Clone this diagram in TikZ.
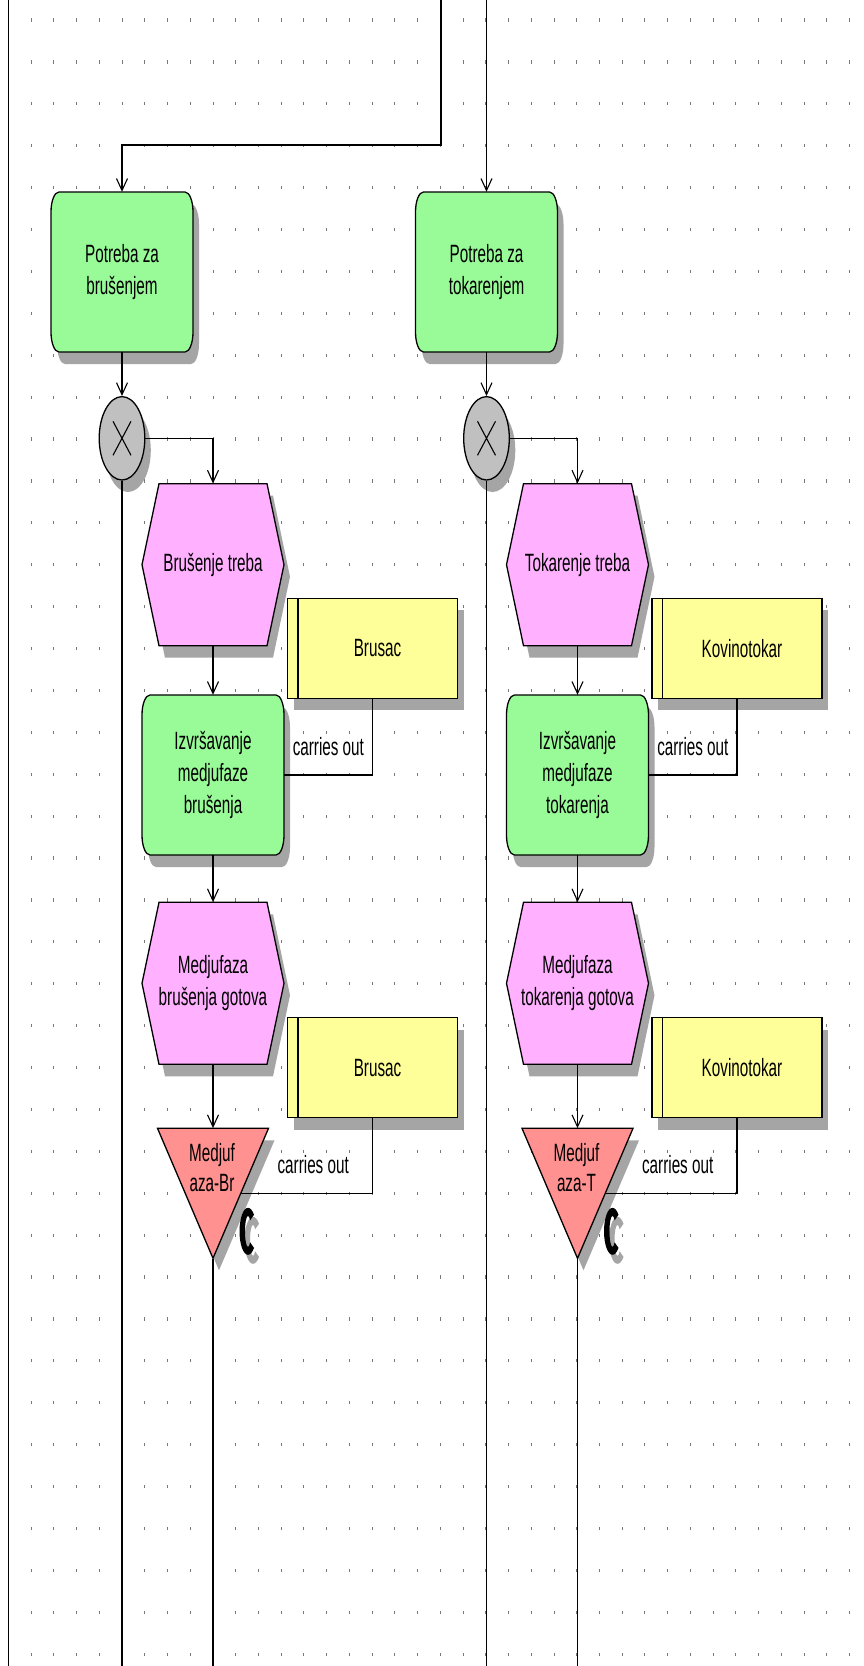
\documentclass[tikz,border=0pt]{standalone}
\usepackage{fontspec}
\newfontfamily\arisfont[FakeStretch=0.61]{Liberation Sans}
\usetikzlibrary{arrows.meta,shapes.geometric}
\definecolor{fgreen}{RGB}{152,251,152}
\definecolor{epink}{RGB}{255,176,255}
\definecolor{oyellow}{RGB}{255,255,153}
\definecolor{tred}{RGB}{255,145,145}
\definecolor{xgray}{RGB}{192,192,192}
\definecolor{shgray}{RGB}{165,165,165}
\definecolor{dotc}{RGB}{120,120,120}
\tikzset{
  outl/.style={draw=black, line width=1.3pt, line join=miter},
  shad/.style={fill=shgray, draw=none},
  conn/.style={draw=black, line width=1.3pt},
  arr/.style={conn, -{Straight Barb[length=12pt,width=11pt,line width=1.1pt]}},
  txt/.style={font={\arisfont\fontsize{25}{32}\selectfont}, align=center, inner sep=0pt},
  lbl/.style={txt, anchor=base, yshift=19.5pt, fill=white, inner sep=1pt}
}
% function box (rounded)
\newcommand\fboxpath[1]{\path[#1] (-71,-60) .. controls (-71,-71) and (-67.5,-80) .. (-63,-80) -- (63,-80) .. controls (67.5,-80) and (71,-71) .. (71,-60) -- (71,60) .. controls (71,71) and (67.5,80) .. (63,80) -- (-63,80) .. controls (-67.5,80) and (-71,71) .. (-71,60) -- cycle;}
\newcommand\funcnode[4]{%
  \begin{scope}[shift={(#2,#3)}]
    \fboxpath{shad, shift={(6,12)}}
    \fboxpath{outl, fill=fgreen}
    \node[txt, minimum width=142pt, minimum height=160pt] (#1) at (0,0) {#4};
  \end{scope}}
% event hexagon
\newcommand\hexpath[1]{\path[#1] (-54,-81) -- (54,-81) -- (71,0) -- (54,81) -- (-54,81) -- (-71,0) -- cycle;}
\newcommand\eventnode[4]{%
  \begin{scope}[shift={(#2,#3)}]
    \hexpath{shad, shift={(6,12)}}
    \hexpath{outl, fill=epink}
    \node[txt, minimum width=142pt, minimum height=162pt] (#1) at (0,0) {#4};
  \end{scope}}
% organisational unit
\newcommand\orgnode[4]{%
  \begin{scope}[shift={(#2,#3)}]
    \path[shad] (-79,-38) rectangle (91,62);
    \path[outl, fill=oyellow] (-85,-50) rectangle (85,50);
    \draw[outl] (-74.6,-50) -- (-74.6,50);
    \node[inner sep=0pt, minimum width=170pt, minimum height=100pt] (#1) at (0,0) {};
    \node[txt] (#1t) at (5,0) {#4};
  \end{scope}}
% xor
\newcommand\xornode[3]{%
  \begin{scope}[shift={(#2,#3)}]
    \path[shad] (6,12) ellipse [x radius=22.8, y radius=41.7];
    \node[ellipse, outl, fill=xgray, inner sep=0pt, minimum width=45.6pt, minimum height=83.4pt] (#1) at (0,0) {};
    \draw[line width=1.1pt] (-9,-17) -- (9,17) (9,-17) -- (-9,17);
  \end{scope}}
% C icon (relative to triangle centre)
\newcommand\cpath[1]{\path[#1] (41.01,21.38) arc [start angle=-45, end angle=-315, x radius=8.5, y radius=23.5] -- (37.12,48.96) arc [start angle=45, end angle=315, x radius=3, y radius=15.5] -- cycle;}
% triangle (product)
\newcommand\trinode[4]{%
  \begin{scope}[shift={(#2,#3)}]
    \path[shad] (-49.5,-53) -- (61.5,-53) -- (6,77) -- cycle;
    \path[outl, fill=tred] (-55.5,-65) -- (55.5,-65) -- (0,65) -- cycle;
    \node[inner sep=0pt, minimum width=111pt, minimum height=130pt] (#1) at (0,0) {};
    \node[txt, font={\arisfont\fontsize{25}{30}\selectfont}] (#1t) at (-1,-26) {#4};
    \coordinate (#1e) at (27.75,0);
    \cpath{fill=shgray, shift={(5,9)}}
    \cpath{fill=black}
  \end{scope}}

\begin{document}
\begin{tikzpicture}[x=1pt, y=-1pt]
\useasboundingbox (0,0) rectangle (864,1666);
\fill[white] (0,0) rectangle (864,1666);
% grid of dots
\foreach \i in {1,...,37} {
  \foreach \j in {0,...,39} {
    \fill[dotc] ({8.5+22.73*\i-0.5},{20+41.9*\j-1.6}) rectangle ++(1,3.2);
  }
}
% left frame line
\draw[conn] (8.5,0) -- (8.5,1666);

% column A
\funcnode{f1}{122}{272}{Potreba za\\brušenjem}
\xornode{x1}{122}{438.3}
\eventnode{h1}{213}{564.7}{Brušenje treba}
\orgnode{y1}{372.5}{648.3}{Brusac}
\funcnode{f2}{213}{775}{Izvršavanje\\medjufaze\\brušenja}
\eventnode{h2}{213}{983.3}{Medjufaza\\brušenja gotova}
\orgnode{y2}{372.5}{1067.8}{Brusac}
\trinode{t1}{213}{1193.3}{Medjuf\\aza-Br}

% column B
\funcnode{f3}{486.5}{272}{Potreba za\\tokarenjem}
\xornode{x2}{486.5}{438.3}
\eventnode{h3}{577.5}{564.7}{Tokarenje treba}
\orgnode{y3}{737}{648.3}{Kovinotokar}
\funcnode{f4}{577.5}{775}{Izvršavanje\\medjufaze\\tokarenja}
\eventnode{h4}{577.5}{983.3}{Medjufaza\\tokarenja gotova}
\orgnode{y4}{737}{1067.8}{Kovinotokar}
\trinode{t2}{577.5}{1193.3}{Medjuf\\aza-T}

% incoming lines
\coordinate (inA) at (441,0);
\coordinate (bendA) at (441,145);
\coordinate (inB) at (486.5,0);
\draw[arr] (inA) -- (bendA) -| (f1.north);
\draw[arr] (inB) -- (f3.north);

% outgoing lines
\coordinate (outA1) at (122,1666);
\coordinate (outA2) at (213,1666);
\coordinate (outB1) at (486.5,1666);
\coordinate (outB2) at (577.5,1666);
\draw[conn] (x1.south) -- (outA1);
\draw[conn] (t1.south) -- (outA2);
\draw[conn] (x2.south) -- (outB1);
\draw[conn] (t2.south) -- (outB2);

% flow column A
\draw[arr] (f1.south) -- (x1.north);
\draw[arr] (x1.east) -| (h1.north);
\draw[arr] (h1.south) -- (f2.north);
\draw[arr] (f2.south) -- (h2.north);
\draw[arr] (h2.south) -- (t1.north);
\draw[conn] (y1.south) |- node[lbl, pos=0.75] {carries out} (f2.east);
\draw[conn] (y2.south) |- node[lbl, pos=0.725] {carries out} (t1e);

% flow column B
\draw[arr] (f3.south) -- (x2.north);
\draw[arr] (x2.east) -| (h3.north);
\draw[arr] (h3.south) -- (f4.north);
\draw[arr] (f4.south) -- (h4.north);
\draw[arr] (h4.south) -- (t2.north);
\draw[conn] (y3.south) |- node[lbl, pos=0.75] {carries out} (f4.east);
\draw[conn] (y4.south) |- node[lbl, pos=0.725] {carries out} (t2e);
\end{tikzpicture}
\end{document}
